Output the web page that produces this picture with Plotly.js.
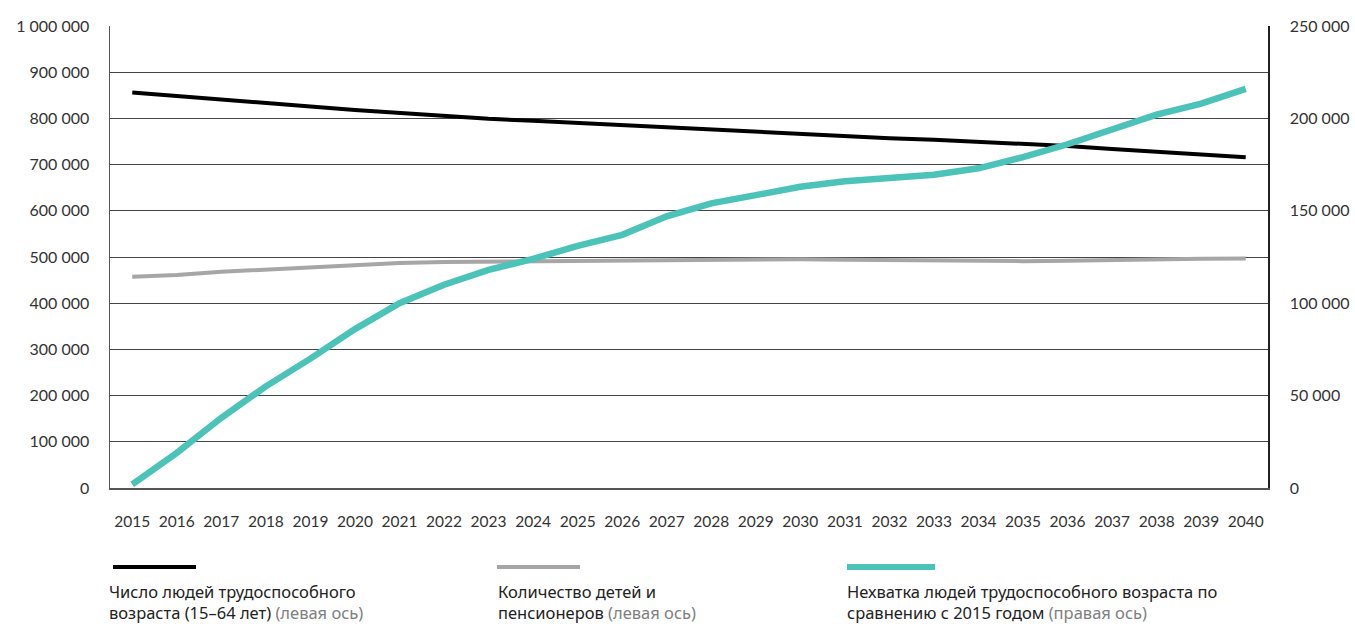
<!DOCTYPE html>
<html>
<head>
<meta charset="utf-8">
<script src="https://cdn.plot.ly/plotly-3.0.1.min.js"></script>
<style>
html,body{margin:0;padding:0;background:#fff;}
#chart{width:1355px;height:624px;}
</style>
</head>
<body>
<div id="chart"></div>
<script>
const years = [2015,2016,2017,2018,2019,2020,2021,2022,2023,2024,2025,2026,2027,2028,2029,2030,2031,2032,2033,2034,2035,2036,2037,2038,2039,2040];
const workingAge = [856000,849000,842000,834000,826000,818000,811000,805000,799000,795000,790000,785000,780000,775000,770000,765000,761000,757000,754000,750000,745000,740000,734000,728000,722000,716000];
const childrenPensioners = [457000,461000,468000,473000,478000,483000,487000,489000,490000,491000,492000,493000,494000,495000,495000,495000,494000,493000,492000,491000,491000,492000,494000,495000,496000,497000];
const shortage = [2000,19000,38000,55000,70000,86000,100000,110000,118000,124000,131000,137000,147000,154000,158500,163000,166000,168000,169500,173000,179000,186000,194000,202000,208000,216000];

const leftTickVals = [0,100000,200000,300000,400000,500000,600000,700000,800000,900000,1000000];
const leftTickText = ['0','100 000','200 000','300 000','400 000','500 000','600 000','700 000','800 000','900 000','1 000 000'];
const rightTickVals = [0,50000,100000,150000,200000,250000];
const rightTickText = ['0','50 000','100 000','150 000','200 000','250 000'];

const legendLine1 = ['Число людей трудоспособного', 'Количество детей и', 'Нехватка людей трудоспособного возраста по'];
const legendLine2 = ['возраста (15–64 лет)', 'пенсионеров', 'сравнению с 2015 годом'];
const legendAxis = ['(левая ось)', '(левая ось)', '(правая ось)'];

const FONT = 'Lato, "Open Sans", sans-serif';
const LFONT = '"Noto Sans", "Open Sans", sans-serif';
const black = '#000000', grey = '#a6a6a6', teal = '#4bc3b8';

const traces = [
  {x: years, y: workingAge, type: 'scatter', mode: 'lines', line: {color: black, width: 4}, yaxis: 'y', hoverinfo: 'x+y'},
  {x: years, y: childrenPensioners, type: 'scatter', mode: 'lines', line: {color: grey, width: 4}, yaxis: 'y', hoverinfo: 'x+y'},
  {x: years, y: shortage, type: 'scatter', mode: 'lines', line: {color: teal, width: 6.5}, yaxis: 'y2', hoverinfo: 'x+y'}
];

function px2x(p){ return (p - 110) / 1158; }
function px2y(p){ return (488 - p) / 462; }

const legendX = [113, 497, 847];
const legendX2 = [196, 580, 935];
const legendColors = [black, grey, teal];
const legendW = [4, 4, 6];
const textX = [108, 497, 846];

const shapes = legendX.map((x0, i) => ({
  type: 'line', xref: 'paper', yref: 'paper',
  x0: px2x(x0), x1: px2x(legendX2[i]), y0: px2y(567), y1: px2y(567),
  line: {color: legendColors[i], width: legendW[i]}
}));

const annotations = [];
legendLine1.forEach((t, i) => {
  annotations.push({
    xref: 'paper', yref: 'paper', x: px2x(textX[i]), y: px2y(591),
    xanchor: 'left', yanchor: 'middle', align: 'left', showarrow: false, borderpad: 0,
    text: t,
    font: {family: LFONT, size: 16.5, color: '#222222'}
  });
  annotations.push({
    xref: 'paper', yref: 'paper', x: px2x(textX[i]), y: px2y(612),
    xanchor: 'left', yanchor: 'middle', align: 'left', showarrow: false, borderpad: 0,
    text: legendLine2[i] + ' <span style="color:#808080">' + legendAxis[i] + '</span>',
    font: {family: LFONT, size: 16.5, color: '#222222'}
  });
});

const layout = {
  width: 1355, height: 624,
  margin: {l: 110, r: 87, t: 26, b: 136},
  paper_bgcolor: '#ffffff', plot_bgcolor: '#ffffff',
  showlegend: false,
  font: {family: FONT, color: '#333333'},
  xaxis: {
    range: [2014.5, 2040.5], tickvals: years, ticktext: years.map(String),
    showgrid: false, zeroline: false, showline: true, linecolor: '#555555', linewidth: 1.5,
    ticks: '', ticklabelstandoff: 19,
    tickfont: {family: FONT, size: 15.5, color: '#333333'}
  },
  yaxis: {
    range: [0, 1000000], tickvals: leftTickVals, ticktext: leftTickText,
    showgrid: true, gridcolor: '#444444', gridwidth: 1, zeroline: false,
    showline: true, linecolor: '#555555', linewidth: 1.5,
    ticks: '', ticklabelstandoff: 16,
    tickfont: {family: FONT, size: 16, color: '#333333'}
  },
  yaxis2: {
    range: [0, 250000], tickvals: rightTickVals, ticktext: rightTickText,
    overlaying: 'y', side: 'right', showgrid: false, zeroline: false,
    showline: true, linecolor: '#222222', linewidth: 1.5,
    ticks: '', ticklabelstandoff: 17,
    tickfont: {family: FONT, size: 16, color: '#333333'}
  },
  shapes: shapes,
  annotations: annotations
};

Plotly.newPlot('chart', traces, layout, {displayModeBar: false, staticPlot: true});
</script>
</body>
</html>
